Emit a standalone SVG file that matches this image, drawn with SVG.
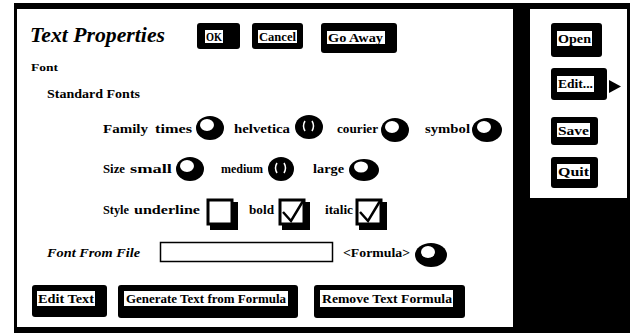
<svg xmlns="http://www.w3.org/2000/svg" width="630" height="333" viewBox="0 0 630 333">
<style>
.t{font-family:"Liberation Serif",serif;font-weight:bold;fill:#000}
.lbl{font-family:"Liberation Serif",serif;font-weight:bold;font-size:12px;fill:#000}
.btn{fill:#000}
.bl{fill:#fff}
.rad{fill:#000}
.hole{fill:#fff}
.cb{fill:#fff;stroke:#000;stroke-width:3}
.ck{fill:none;stroke:#000;stroke-width:2.5}
.par{fill:none;stroke:#fff;stroke-width:1.5}
</style>
<rect x="0" y="0" width="630" height="333" fill="#fff"/>
<g id="frame">
<rect x="14" y="3" width="616" height="330" fill="#000"/>
<rect x="17" y="9" width="496" height="318" fill="#fff"/>
<rect x="530" y="9" width="97" height="189" fill="#fff"/>
</g>
<g id="title"><text class="t" x="30" y="42" font-size="20" font-style="italic" textLength="135" lengthAdjust="spacingAndGlyphs">Text Properties</text></g>
<g id="btn-ok"><rect class="btn" x="197" y="23" width="43" height="26" rx="3"/><rect class="bl" x="205" y="30" width="18" height="13"/><text class="lbl" x="206" y="41" textLength="16" lengthAdjust="spacingAndGlyphs">OK</text></g>
<g id="btn-cancel"><rect class="btn" x="252" y="23" width="51" height="26" rx="3"/><rect class="bl" x="258" y="30" width="39" height="13"/><text class="lbl" x="259" y="41" textLength="37" lengthAdjust="spacingAndGlyphs">Cancel</text></g>
<g id="btn-goaway"><rect class="btn" x="321" y="23" width="76" height="30" rx="3"/><rect class="bl" x="327" y="31" width="58" height="13"/><text class="lbl" x="328" y="42" textLength="55" lengthAdjust="spacingAndGlyphs">Go Away</text></g>
<g id="font-label"><text class="t" x="31" y="71" font-size="11" textLength="27" lengthAdjust="spacingAndGlyphs">Font</text></g>
<g id="std-fonts"><text class="t" x="47" y="98" font-size="12" textLength="93" lengthAdjust="spacingAndGlyphs">Standard Fonts</text></g>
<g id="family-row">
<text class="t" x="103" y="133" font-size="13" textLength="45" lengthAdjust="spacingAndGlyphs">Family</text>
<text class="t" x="155" y="133" font-size="13" textLength="37" lengthAdjust="spacingAndGlyphs">times</text>
<ellipse class="rad" cx="210" cy="128" rx="14" ry="12"/><ellipse class="hole" cx="207" cy="125" rx="7" ry="6"/>
<text class="t" x="234" y="133" font-size="13" textLength="56" lengthAdjust="spacingAndGlyphs">helvetica</text>
<ellipse class="rad" cx="309" cy="127" rx="14" ry="12"/><path class="par" d="M305 121 Q302 126 305 131 M312 121 Q315 126 312 131"/>
<text class="t" x="337" y="133" font-size="13" textLength="41" lengthAdjust="spacingAndGlyphs">courier</text>
<ellipse class="rad" cx="395" cy="130" rx="14" ry="12"/><ellipse class="hole" cx="392" cy="127" rx="7" ry="6"/>
<text class="t" x="425" y="133" font-size="13" textLength="45" lengthAdjust="spacingAndGlyphs">symbol</text>
<ellipse class="rad" cx="487" cy="130" rx="15" ry="12"/><ellipse class="hole" cx="484" cy="127" rx="7" ry="6"/>
</g>
<g id="size-row">
<text class="t" x="103" y="173" font-size="13" textLength="22" lengthAdjust="spacingAndGlyphs">Size</text>
<text class="t" x="130" y="173" font-size="13" textLength="42" lengthAdjust="spacingAndGlyphs">small</text>
<ellipse class="rad" cx="190" cy="169" rx="14" ry="12"/><ellipse class="hole" cx="187" cy="166" rx="7" ry="6"/>
<text class="t" x="221" y="173" font-size="13" textLength="42" lengthAdjust="spacingAndGlyphs">medium</text>
<ellipse class="rad" cx="281" cy="169" rx="13" ry="12"/><path class="par" d="M277 163 Q274 168 277 173 M284 163 Q287 168 284 173"/>
<text class="t" x="313" y="173" font-size="13" textLength="31" lengthAdjust="spacingAndGlyphs">large</text>
<ellipse class="rad" cx="364" cy="170" rx="15" ry="11"/><ellipse class="hole" cx="361" cy="167" rx="7" ry="5.5"/>
</g>
<g id="style-row">
<text class="t" x="103" y="214" font-size="13" textLength="26" lengthAdjust="spacingAndGlyphs">Style</text>
<text class="t" x="134" y="214" font-size="13" textLength="66" lengthAdjust="spacingAndGlyphs">underline</text>
<rect class="btn" x="210" y="202" width="28" height="28"/><rect class="cb" x="208" y="200" width="24" height="24"/>
<text class="t" x="249" y="214" font-size="13" textLength="25" lengthAdjust="spacingAndGlyphs">bold</text>
<rect class="btn" x="282" y="202" width="28" height="28"/><rect class="cb" x="280" y="200" width="24" height="24"/><path class="ck" d="M283 212 L291 221 L303 201"/>
<text class="t" x="325" y="214" font-size="13" textLength="28" lengthAdjust="spacingAndGlyphs">italic</text>
<rect class="btn" x="359" y="202" width="28" height="28"/><rect class="cb" x="357" y="200" width="24" height="24"/><path class="ck" d="M360 212 L368 221 L380 201"/>
</g>
<g id="font-from-file">
<text class="t" x="47" y="257" font-size="12" font-style="italic" textLength="93" lengthAdjust="spacingAndGlyphs">Font From File</text>
<rect x="160.5" y="242.5" width="172" height="19" fill="#fff" stroke="#000" stroke-width="1.5"/>
<text class="t" x="343" y="257" font-size="12" textLength="67" lengthAdjust="spacingAndGlyphs">&lt;Formula&gt;</text>
<ellipse class="rad" cx="431" cy="255" rx="16" ry="12"/><ellipse class="hole" cx="428" cy="252" rx="7" ry="6"/>
</g>
<g id="btn-edittext"><rect class="btn" x="32" y="285" width="75" height="32" rx="3"/><rect class="bl" x="37" y="291" width="58" height="15"/><text class="lbl" x="38" y="303" textLength="56" lengthAdjust="spacingAndGlyphs">Edit Text</text></g>
<g id="btn-generate"><rect class="btn" x="118" y="285" width="180" height="33" rx="3"/><rect class="bl" x="124" y="291" width="164" height="15"/><text class="lbl" x="126" y="303" textLength="160" lengthAdjust="spacingAndGlyphs">Generate Text from Formula</text></g>
<g id="btn-remove"><rect class="btn" x="314" y="285" width="151" height="33" rx="3"/><rect class="bl" x="320" y="290" width="133" height="17"/><text class="lbl" x="322" y="303" textLength="130" lengthAdjust="spacingAndGlyphs">Remove Text Formula</text></g>
<g id="btn-open"><rect class="btn" x="551" y="23" width="51" height="34" rx="3"/><rect class="bl" x="557" y="31" width="35" height="15"/><text class="lbl" x="558" y="43" textLength="33" lengthAdjust="spacingAndGlyphs">Open</text></g>
<g id="btn-edit"><rect class="btn" x="551" y="68" width="56" height="32" rx="3"/><rect class="bl" x="557" y="76" width="37" height="16"/><text class="lbl" x="558" y="88" textLength="35" lengthAdjust="spacingAndGlyphs">Edit...</text><polygon points="609,80 621,86.5 609,93" fill="#000"/></g>
<g id="btn-save"><rect class="btn" x="551" y="117" width="47" height="28" rx="3"/><rect class="bl" x="557" y="123" width="33" height="14"/><text class="lbl" x="558" y="135" textLength="31" lengthAdjust="spacingAndGlyphs">Save</text></g>
<g id="btn-quit"><rect class="btn" x="551" y="157" width="47" height="31" rx="3"/><rect class="bl" x="557" y="164" width="33" height="15"/><text class="lbl" x="558" y="176" textLength="31" lengthAdjust="spacingAndGlyphs">Quit</text></g>
</svg>
